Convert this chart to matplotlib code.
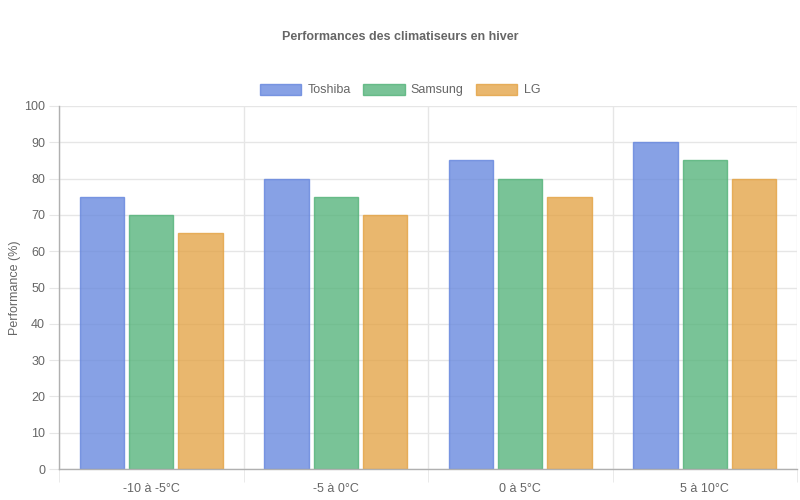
import numpy as np
import matplotlib.pyplot as plt
from matplotlib.ticker import FixedLocator

categories = ['-10 à -5°C', '-5 à 0°C', '0 à 5°C', '5 à 10°C']
toshiba = [75, 80, 85, 90]
samsung = [70, 75, 80, 85]
lg = [65, 70, 75, 80]
series_names = ['Toshiba', 'Samsung', 'LG']

plt.rcParams['font.family'] = ['Liberation Sans', 'DejaVu Sans']
text_col = '#666666'
grid_col = '#e6e6e6'

fills = [(0.40, 0.53, 0.87, 0.78), (0.33, 0.70, 0.48, 0.78), (0.89, 0.64, 0.27, 0.78)]
edges = [(0.40, 0.53, 0.87, 0.82), (0.33, 0.70, 0.48, 0.82), (0.89, 0.64, 0.27, 0.82)]

fig = plt.figure(figsize=(8, 5), dpi=100)
ax = fig.add_axes([59 / 800, 31 / 500, 738 / 800, 363 / 500])

x = np.arange(len(categories))
slot = 0.8 / 3
width = slot * 0.9
data = [toshiba, samsung, lg]
for i, vals in enumerate(data):
    ax.bar(x - 0.4 + slot * (i + 0.5), vals, width, color=fills[i],
           edgecolor=edges[i], linewidth=1, label=series_names[i], zorder=2)

ax.set_xlim(-0.5, len(categories) - 0.5)
ax.set_ylim(0, 100)
ax.set_yticks(range(0, 101, 10))
ax.set_xticks(x)
ax.set_xticklabels(categories)
ax.xaxis.set_minor_locator(FixedLocator(np.arange(-0.5, len(categories), 1)))

ax.tick_params(axis='x', which='major', length=0, pad=10, labelsize=9, labelcolor=text_col)
ax.tick_params(axis='x', which='minor', length=9, color=grid_col)
ax.tick_params(axis='y', length=7, color=grid_col, pad=3, labelsize=9, labelcolor=text_col)

ax.grid(axis='y', color=grid_col, linewidth=1, zorder=0)
ax.grid(axis='x', which='minor', color=grid_col, linewidth=1, zorder=0)
ax.set_axisbelow(True)

for s in ['top', 'right']:
    ax.spines[s].set_visible(False)
for s in ['left', 'bottom']:
    ax.spines[s].set_color('#b0b0b0')
    ax.spines[s].set_linewidth(1)

ax.set_ylabel('Performance (%)', fontsize=9, color=text_col, labelpad=2)

fig.suptitle('Performances des climatiseurs en hiver', y=1 - 37 / 500, va='center',
             fontsize=9, fontweight='bold', color=text_col)

fig.legend(loc='center', bbox_to_anchor=(0.5, 1 - 90 / 500), ncol=3, frameon=False,
           fontsize=9, labelcolor=text_col, handlelength=3.3, handleheight=1.0,
           handletextpad=0.5, columnspacing=1.0)

plt.savefig('out.png', dpi=100)
